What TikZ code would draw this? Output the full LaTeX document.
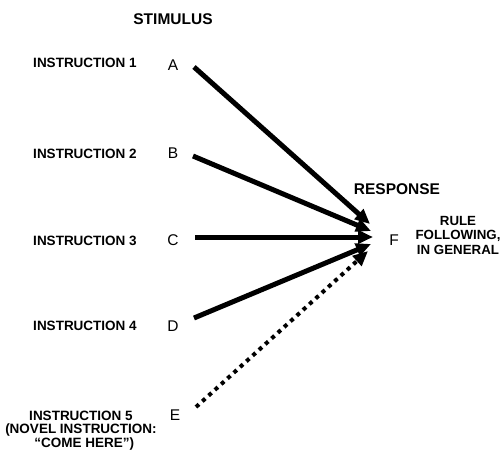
\documentclass[tikz,border=0pt]{standalone}
\usepackage{fontspec}
\setmainfont{Liberation Sans}
\usetikzlibrary{arrows.meta}
\begin{document}
\begin{tikzpicture}[x=1pt,y=-1pt,
  instr/.style={font=\fontsize{13.5}{13.5}\selectfont\bfseries, inner sep=0pt, align=center, anchor=base},
  header/.style={font=\fontsize{15.5}{16}\selectfont\bfseries, inner sep=0pt, anchor=base},
  letter/.style={font=\fontsize{15.5}{16}\selectfont, inner sep=0pt, anchor=base},
  note/.style={font=\fontsize{13.3}{14.5}\selectfont\bfseries, inner sep=0pt, align=center, anchor=base},
  link/.style={line width=5pt, -{Triangle[length=15pt,width=13pt]}},
  novel/.style={link, line width=4pt, dash pattern=on 4pt off 4.5pt}]
\useasboundingbox (0,0) rectangle (502,458);

% column headings
\node[header] (stim) at (173,24) {STIMULUS};
\node[header] (resp) at (397,194) {RESPONSE};

% instructions and their stimulus letters
\node[instr] (i1) at (85,67) {INSTRUCTION 1};
\node[instr] (i2) at (85,158) {INSTRUCTION 2};
\node[instr] (i3) at (85,245) {INSTRUCTION 3};
\node[instr] (i4) at (85,330) {INSTRUCTION 4};
% base anchor of a multi-line node sits on its last line
\node[instr] (i5) at (81,447) {INSTRUCTION 5\\(NOVEL INSTRUCTION:\\\enspace``COME HERE'')};

\node[letter] (A) at (173,70) {A};
\node[letter] (B) at (173,158) {B};
\node[letter] (C) at (173,245) {C};
\node[letter] (D) at (173,331) {D};
\node[letter] (E) at (175,420) {E};

% response
\node[letter] (F) at (394,245) {F};
\node[note] (rule) at (458,254) {RULE\\FOLLOWING,\\IN GENERAL};

% arrow ends
\coordinate (sA) at (194,67);
\coordinate (sB) at (193,156);
\coordinate (sC) at (195,237);
\coordinate (sD) at (194,318);
\coordinate (sE) at (196,407);
\coordinate (tA) at (370,224);
\coordinate (tB) at (371,231);
\coordinate (tC) at (373,237);
\coordinate (tD) at (371,244);
\coordinate (tE) at (368,251);

\draw[link] (sA) -- (tA);
\draw[link] (sB) -- (tB);
\draw[link] (sC) -- (tC);
\draw[link] (sD) -- (tD);
\draw[novel] (sE) -- (tE);
\end{tikzpicture}
\end{document}
